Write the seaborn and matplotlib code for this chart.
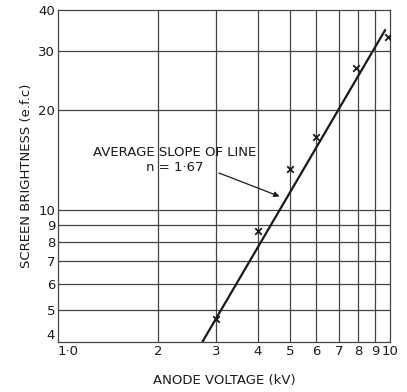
import numpy as np
import pandas as pd
import seaborn as sns
import matplotlib.pyplot as plt
from matplotlib.ticker import FixedLocator, NullLocator

# measured points (kV, e.f.c)
voltage = [3.0, 4.0, 5.0, 6.0, 7.9, 9.85]
brightness = [4.7, 8.65, 13.3, 16.6, 26.7, 33.2]

# fitted line end points
line_v = [2.72, 9.66]
line_b = [4.0, 34.8]

x_ticks = [1, 2, 3, 4, 5, 6, 7, 8, 9, 10]
x_labels = ['1·0', '2', '3', '4', '5', '6', '7', '8', '9', '10']
y_ticks = [4, 5, 6, 7, 8, 9, 10, 20, 30, 40]
y_labels = ['4', '5', '6', '7', '8', '9', '10', '20', '30', '40']

pts = pd.DataFrame({'voltage': voltage, 'brightness': brightness})
fit = pd.DataFrame({'voltage': line_v, 'brightness': line_b})

sns.set_style('white')
plt.rcParams['font.family'] = ['DejaVu Sans']

fig = plt.figure(figsize=(4.07, 3.92), dpi=100)
ax = fig.add_axes([0.1425, 0.1276, 0.816, 0.847])

ax.set_xscale('log')
ax.set_yscale('log')
ax.set_xlim(1, 10)
ax.set_ylim(4, 40)

# grid drawn by hand on the chosen ticks
for v in x_ticks[1:-1]:
    ax.axvline(v, color='#444444', lw=0.9, zorder=1)
for b in y_ticks[1:-1]:
    ax.axhline(b, color='#444444', lw=0.9, zorder=1)

sns.lineplot(data=fit, x='voltage', y='brightness', color='#1a1a1a', lw=1.6, ax=ax, zorder=3)
sns.scatterplot(data=pts, x='voltage', y='brightness', marker='x', color='#1a1a1a',
                s=22, linewidth=1.3, ax=ax, zorder=4)

ax.xaxis.set_major_locator(FixedLocator(x_ticks))
ax.xaxis.set_minor_locator(NullLocator())
ax.set_xticklabels(x_labels)
ax.yaxis.set_major_locator(FixedLocator(y_ticks))
ax.yaxis.set_minor_locator(NullLocator())
ax.set_yticklabels(y_labels)
ax.tick_params(length=0, labelsize=9.5, colors='#1a1a1a', pad=2)
ax.get_xticklabels()[0].set_horizontalalignment('left')
ax.get_yticklabels()[0].set_verticalalignment('bottom')

for s in ax.spines.values():
    s.set_color('#444444')
    s.set_linewidth(0.9)

ax.set_xlabel('ANODE VOLTAGE (kV)', fontsize=9.5, color='#1a1a1a', labelpad=12)
ax.set_ylabel('SCREEN BRIGHTNESS (e.f.c)', fontsize=9.5, color='#1a1a1a', labelpad=4)

ax.text(2.24, 14.9, 'AVERAGE SLOPE OF LINE', ha='center', va='center', fontsize=9.5, color='#1a1a1a')
ax.text(2.24, 13.4, 'n = 1·67', ha='center', va='center', fontsize=9.5, color='#1a1a1a')
ax.annotate('', xy=(4.73, 10.9), xytext=(3.0, 13.0),
            arrowprops=dict(arrowstyle='-|>', color='#1a1a1a', lw=0.9, mutation_scale=8))

fig.savefig('out.png', dpi=100)
